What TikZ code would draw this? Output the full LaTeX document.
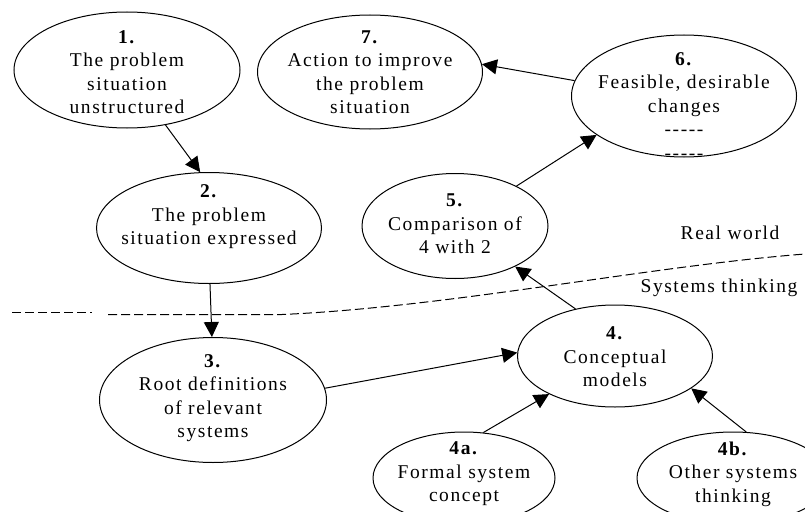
\documentclass[tikz,border=0pt]{standalone}
\usepackage{fontspec}
\setmainfont{Liberation Serif}[LetterSpace=8]
\usetikzlibrary{shapes.geometric, arrows.meta, positioning}

\tikzset{
  stage/.style={draw, ellipse, inner sep=0pt, line width=1pt},
  caption/.style={align=center, inner sep=0pt, font=\fontsize{19.5}{23.5}\selectfont},
  flow/.style={line width=1pt, -{Triangle[length=15pt, width=15pt]}},
  border/.style={line width=1pt, dash pattern=on 9pt off 4pt}
}

\begin{document}
\begin{tikzpicture}[x=1pt, y=-1pt]
  \useasboundingbox (0,0) rectangle (805,511);
  \clip (0,0) rectangle (805,511);

  % stages of the method
  \node[stage, minimum width=226, minimum height=116] (s1) at (127,70) {};
  \node[stage, minimum width=225, minimum height=114] (s7) at (370,72) {};
  \node[stage, minimum width=225, minimum height=122] (s6) at (684,96) {};
  \node[stage, minimum width=225, minimum height=111] (s2) at (209,228) {};
  \node[stage, minimum width=186, minimum height=105] (s5) at (455,226) {};
  \node[stage, minimum width=227, minimum height=125] (s3) at (213,400) {};
  \node[stage, minimum width=195, minimum height=102] (s4) at (615,356) {};
  \node[stage, minimum width=182, minimum height=92] (s4a) at (464,478) {};
  \node[stage, minimum width=192, minimum height=92] (s4b) at (733,478) {};

  \node[caption] (t1) at (127,72) {\textbf{1.}\\The problem\\situation\\unstructured};
  \node[caption] (t7) at (370,72) {\textbf{7.}\\Action to improve\\the problem\\situation};
  \node[caption] (t6) at (684,106) {\textbf{6.}\\Feasible, desirable\\changes\\-{}-{}-{}-{}-\\-{}-{}-{}-{}-};
  \node[caption] (t2) at (209,217) {\textbf{2.}\\The problem\\situation expressed};
  \node[caption] (t5) at (455,224) {\textbf{5.}\\Comparison of\\4 with 2};
  \node[caption] (t3) at (213,398) {\textbf{3.}\\Root definitions\\of relevant\\systems};
  \node[caption] (t4) at (615,357) {\textbf{4.}\\Conceptual\\models};
  \node[caption] (t4a) at (464,474) {\textbf{4a.}\\Formal system\\concept};
  \node[caption] (t4b) at (733,474) {\textbf{4b.}\\Other systems\\thinking};

  % boundary between the two worlds
  \draw[border] (12,312.5) -- (92,312.5);
  \draw[border] (108,314.5) -- (282,314.5) .. controls (450,307) and (650,266) .. (805,254);
  \node[caption] (real) at (730,233) {Real world};
  \node[caption] (sys) at (719,288) {Systems thinking};

  % flow
  \draw[flow] (s1.-55) -- (s2.99);
  \draw[flow] (s2.-89) -- (s3.91);
  \draw[flow] (s3.6) -- (s4.178);
  \draw[flow] (s4.130) -- (s5.-34);
  \draw[flow] (s5.33) -- (s6.204);
  \draw[flow] (s6.172) -- (s7.4);
  \draw[flow] (s4a.67) -- (s4.210);
  \draw[flow] (s4b.74) -- (s4.-23);
\end{tikzpicture}
\end{document}
